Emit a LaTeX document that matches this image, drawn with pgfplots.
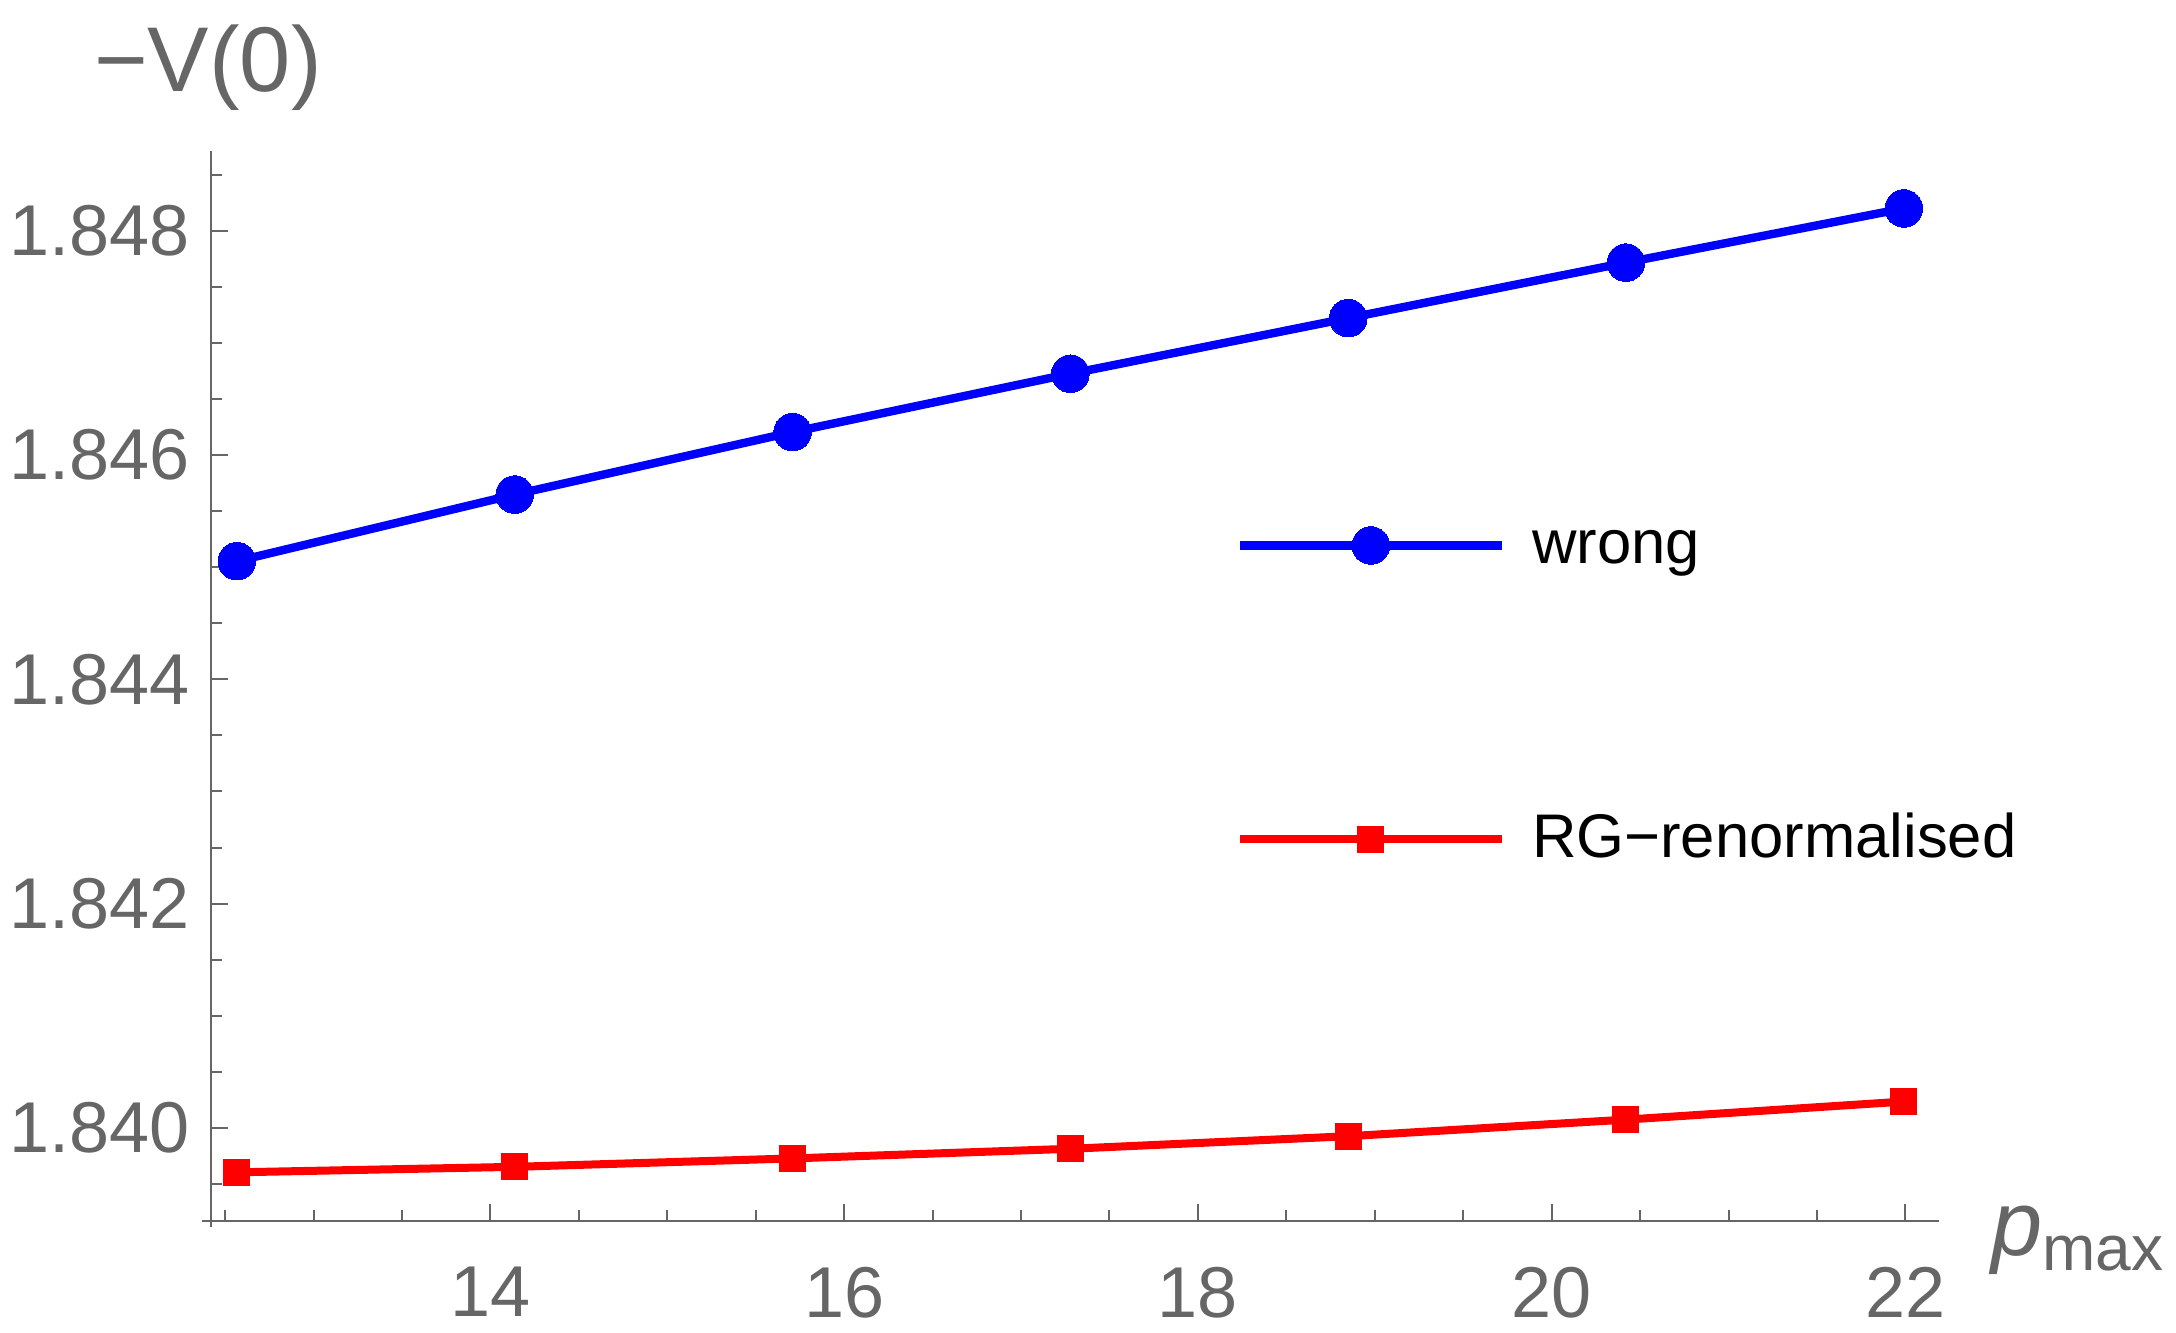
\documentclass[border=0pt]{standalone}
\usepackage{pgfplots}
\pgfplotsset{compat=1.18}
\usepackage{fontspec}
\setmainfont{Liberation Sans}
\definecolor{axgray}{gray}{0.4}
\begin{document}
\begin{tikzpicture}
\useasboundingbox (-52.75pt,-27.75pt) rectangle (491.25pt,305.25pt);
\begin{axis}[
  at={(0pt,0pt)}, anchor=south west,
  scale only axis, width=432pt, height=267.5pt,
  xmin=12.42, xmax=22.19, ymin=1.83917, ymax=1.84871,
  axis x line=bottom, axis y line=left,
  axis line style={-, draw=axgray, line width=0.5pt},
  x axis line style={shorten <=-2.2pt},
  y axis line style={shorten <=-1.6pt},
  tick align=inside,
  major tick length=4.25pt, minor tick length=2.7pt,
  tick style={axgray, line width=0.5pt},
  xtick={14,16,18,20,22}, xticklabels={14,16,18,20,22},
  minor xtick={12.5,13,13.5,14.5,15,15.5,16.5,17,17.5,18.5,19,19.5,20.5,21,21.5},
  ytick={1.840,1.842,1.844,1.846,1.848},
  yticklabels={1.840,1.842,1.844,1.846,1.848},
  minor ytick={1.8395,1.8405,1.841,1.8415,1.8425,1.843,1.8435,1.8445,1.845,1.8455,1.8465,1.847,1.8475,1.8485},
  /pgf/number format/assume math mode=true,
  tick label style={font=\fontsize{18}{18}\selectfont, text=axgray, inner sep=0pt},
  xticklabel style={anchor=north, yshift=-11.25pt},
  yticklabel style={anchor=east, xshift=-5.25pt},
  every axis x label/.style={at={(rel axis cs:1,0)}, anchor=base west, xshift=12.8pt, yshift=-8.5pt, font=\fontsize{23}{23}\selectfont, text=axgray, inner sep=0pt},
  every axis y label/.style={at={(rel axis cs:0,1)}, anchor=center, xshift=-0.75pt, yshift=20.75pt, font=\fontsize{23}{23}\selectfont, text=axgray, inner sep=0pt},
  xlabel={\textit{p}\raisebox{-3.75pt}{\fontsize{16}{16}\selectfont max}},
  ylabel={−V(0)},
  clip=false,
  legend cell align=left,
  legend style={draw=none, fill=none, at={(rel axis cs:0.5925,0.494)}, anchor=west,
    inner xsep=0pt, inner ysep=0pt, row sep=58.5pt,
    font=\fontsize{15.4}{15.4}\selectfont, text=black,
    nodes={inner sep=0pt, text height=12pt, text depth=3pt},
    /tikz/every odd column/.style={column sep=6.5pt}},
  legend image code/.code={\draw[mark repeat=2,mark phase=2,#1] plot coordinates {(0pt,0pt) (32.75pt,0pt) (65.5pt,0pt)};},
]
\addplot[color=blue, line width=2.1pt, mark=*, mark size=4.7pt, mark options={solid, fill=blue, draw=blue, line width=0pt}]
  coordinates {
  (12.566,1.845053) (14.137,1.845647) (15.708,1.846204) (17.279,1.846724)
  (18.850,1.847220) (20.420,1.847715) (21.991,1.848198)
  };
\addlegendentry{wrong}
\addplot[color=red, line width=2pt, mark=square*, mark size=3.25pt, mark options={solid, fill=red, draw=red, line width=0pt}]
  coordinates {
  (12.566,1.839604) (14.137,1.839653) (15.708,1.839728) (17.279,1.839814)
  (18.850,1.839926) (20.420,1.840074) (21.991,1.840235)
  };
\addlegendentry{RG−renormalised}
\end{axis}
\end{tikzpicture}
\end{document}
